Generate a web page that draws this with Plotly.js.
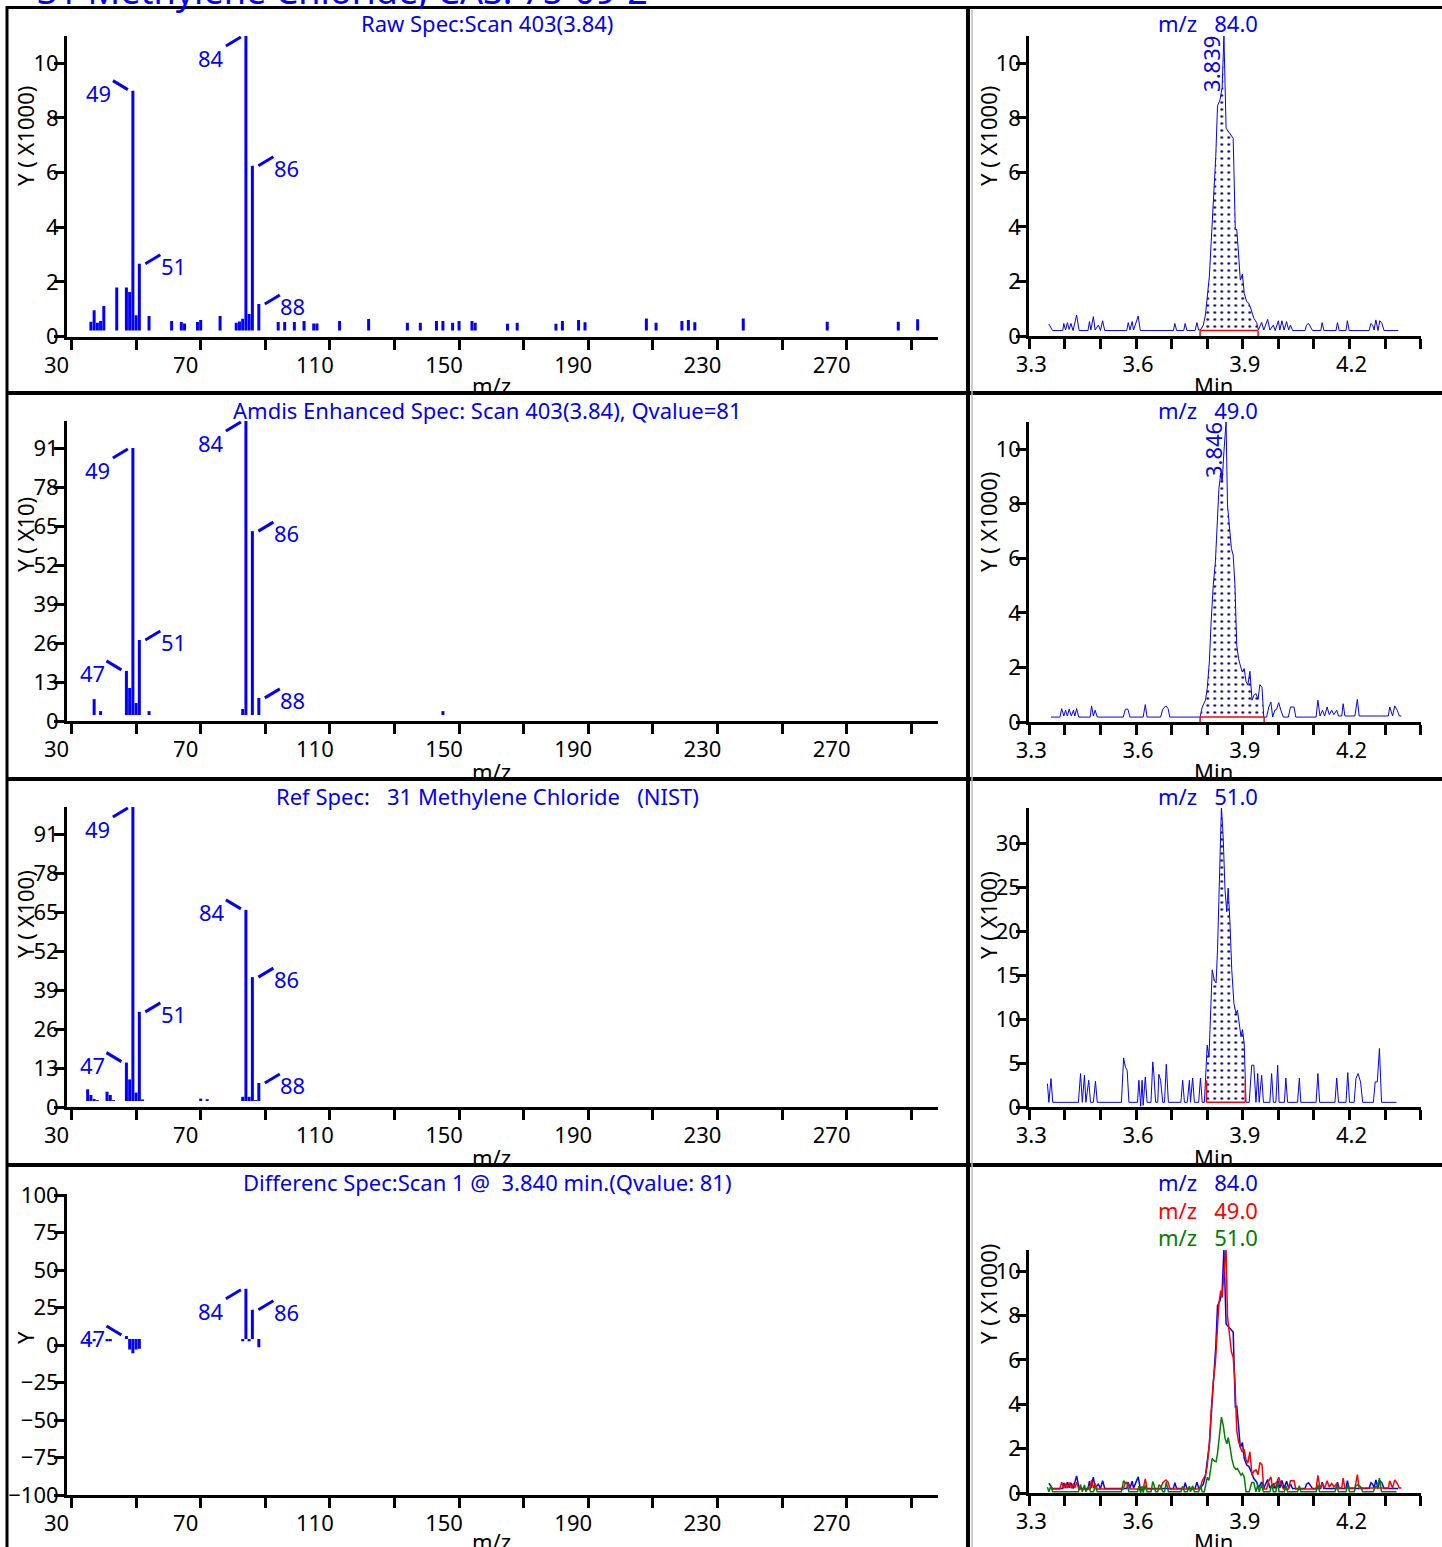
<!DOCTYPE html>
<html><head><meta charset="utf-8">
<script src="https://cdn.plot.ly/plotly-3.0.1.min.js"></script>
<style>html,body{margin:0;padding:0;background:#fff}#chart{width:1442px;height:1547px}</style>
</head><body><div id="chart"></div>
<script>
// ================= DATA =================
// Raw spectrum, scan 403 (Y x1000)
const rawMz  = [36,37,38,39,40,44,47,48,49,50,51,54,61,64,65,69,70,76,81,82,83,84,85,86,88,94,96,99,102,105,106,113,122,134,138,143,145,148,150,154,155,165,168,180,182,187,189,208,211,219,221,223,238,264,286,292];
const rawInt = [0.54,0.96,0.50,0.57,1.12,1.79,1.79,1.63,9.0,0.78,2.66,0.75,0.57,0.53,0.48,0.53,0.60,0.75,0.50,0.55,0.65,11.0,0.82,6.25,1.19,0.53,0.53,0.53,0.57,0.48,0.48,0.57,0.64,0.50,0.50,0.57,0.57,0.50,0.57,0.57,0.50,0.47,0.50,0.47,0.57,0.60,0.52,0.66,0.50,0.57,0.60,0.52,0.66,0.54,0.54,0.63];
// AMDIS enhanced spectrum (Y x10)
const amdisMz  = [37,39,47,48,49,50,51,54,83,84,86,88,145];
const amdisInt = [7.3,3.3,16.7,11,91,6,27,3.3,4,100,63.3,7.7,3.3];
// Reference spectrum NIST (Y x100)
const refMz  = [35,36,37,38,41,42,43,47,48,49,50,51,52,70,72,83,84,85,86,87,88];
const refInt = [5.9,4,2.7,2.3,5.1,4,2.3,14.8,9.2,100,4.8,31.7,2.5,2.8,2.6,3.4,65.7,3.4,43.3,2.3,8];
// Difference spectrum
const diffMz  = [35,37,41,42,47,48,49,50,51,83,84,85,86,88];
const diffInt = [2.5,2.5,2.5,2.5,6,-3,-5.5,-3,-2.5,2.5,37.5,2.5,23.5,-1.5];

// Extracted ion chromatograms (time in min)
const t84 = [3.355,3.365,3.394,3.397,3.402,3.407,3.412,3.417,3.423,3.433,3.440,3.465,3.469,3.473,3.480,3.485,3.494,3.500,3.506,3.512,3.574,3.578,3.583,3.589,3.593,3.606,3.612,3.705,3.709,3.714,3.734,3.738,3.743,3.766,3.771,3.776,3.781,3.789,3.795,3.800,3.806,3.811,3.818,3.824,3.829,3.836,3.842,3.847,3.853,3.858,3.865,3.873,3.879,3.883,3.887,3.893,3.899,3.904,3.911,3.917,3.924,3.931,3.939,3.944,3.953,3.959,3.970,3.976,3.986,3.991,4.000,4.004,4.010,4.016,4.023,4.029,4.034,4.040,4.075,4.079,4.085,4.096,4.119,4.123,4.128,4.162,4.166,4.171,4.190,4.194,4.199,4.255,4.260,4.265,4.269,4.274,4.280,4.285,4.291,4.297,4.337];
const v84 = [0.44,0.20,0.20,0.46,0.22,0.49,0.24,0.46,0.20,0.77,0.20,0.20,0.53,0.22,0.71,0.22,0.40,0.20,0.56,0.20,0.20,0.49,0.22,0.53,0.22,0.73,0.20,0.20,0.46,0.20,0.20,0.46,0.20,0.20,0.49,0.22,0.22,0.40,0.77,1.32,2.18,3.40,4.99,6.58,8.44,8.66,9.12,11.0,7.62,7.53,7.43,7.25,3.89,3.91,3.22,2.05,2.27,1.56,1.26,1.20,0.95,0.65,0.49,0.22,0.50,0.22,0.61,0.22,0.40,0.20,0.56,0.22,0.56,0.22,0.53,0.22,0.40,0.20,0.20,0.40,0.46,0.20,0.20,0.49,0.20,0.20,0.49,0.20,0.20,0.56,0.20,0.20,0.46,0.40,0.22,0.59,0.20,0.56,0.46,0.20,0.20];

const t49 = [3.361,3.386,3.391,3.397,3.402,3.407,3.412,3.418,3.424,3.428,3.433,3.439,3.471,3.475,3.480,3.485,3.491,3.564,3.570,3.577,3.583,3.620,3.626,3.631,3.669,3.675,3.684,3.690,3.695,3.780,3.786,3.795,3.800,3.806,3.811,3.817,3.823,3.828,3.833,3.838,3.842,3.847,3.853,3.857,3.862,3.868,3.873,3.878,3.883,3.888,3.894,3.899,3.904,3.909,3.914,3.920,3.926,3.931,3.937,3.943,3.948,3.954,3.959,3.967,3.973,3.979,3.984,3.990,3.995,4.001,4.007,4.014,4.028,4.034,4.044,4.049,4.106,4.111,4.117,4.124,4.130,4.137,4.143,4.150,4.156,4.164,4.169,4.178,4.182,4.187,4.215,4.222,4.227,4.309,4.313,4.321,4.327,4.334,4.340,4.346];
const v49 = [0.18,0.18,0.49,0.22,0.43,0.22,0.47,0.22,0.43,0.22,0.49,0.18,0.18,0.59,0.22,0.43,0.18,0.18,0.47,0.47,0.18,0.18,0.64,0.18,0.18,0.47,0.59,0.49,0.18,0.18,0.55,0.80,1.22,2.20,3.67,5.02,5.87,7.34,8.57,9.12,8.81,9.91,11.0,7.96,7.10,6.36,6.12,5.02,2.82,2.33,2.02,1.84,1.96,1.49,1.35,1.86,0.80,0.98,1.04,0.83,1.37,1.27,0.18,0.18,0.55,0.73,0.18,0.43,0.47,0.71,0.43,0.18,0.18,0.55,0.55,0.18,0.18,0.80,0.22,0.43,0.22,0.55,0.27,0.43,0.27,0.43,0.22,0.22,0.67,0.22,0.22,0.83,0.22,0.22,0.55,0.22,0.59,0.43,0.22,0.22];

const t51 = [3.351,3.355,3.361,3.366,3.438,3.444,3.449,3.455,3.459,3.467,3.472,3.480,3.486,3.491,3.559,3.565,3.570,3.575,3.580,3.604,3.608,3.613,3.617,3.620,3.626,3.631,3.642,3.647,3.650,3.655,3.661,3.664,3.669,3.675,3.680,3.685,3.691,3.726,3.731,3.736,3.744,3.750,3.753,3.759,3.764,3.776,3.781,3.786,3.792,3.800,3.805,3.810,3.814,3.820,3.825,3.829,3.834,3.838,3.840,3.845,3.850,3.855,3.859,3.864,3.869,3.875,3.881,3.885,3.890,3.895,3.899,3.904,3.909,3.918,3.925,3.931,3.937,3.942,3.946,3.953,3.958,3.976,3.981,3.986,3.993,3.998,4.002,4.017,4.021,4.026,4.054,4.059,4.063,4.106,4.111,4.116,4.159,4.164,4.169,4.190,4.195,4.200,4.213,4.218,4.224,4.231,4.237,4.267,4.272,4.278,4.284,4.290,4.332];
const v51 = [2.66,0.53,3.23,0.53,0.53,3.80,0.53,3.61,0.53,3.04,0.53,0.53,2.92,0.53,0.53,5.58,4.56,4.18,0.53,0.53,3.04,0.08,3.04,0.19,3.42,0.53,0.53,5.13,3.80,0.53,0.53,3.72,3.04,0.53,0.53,4.86,0.53,0.53,3.04,0.53,0.53,3.04,0.53,3.30,0.53,0.53,3.30,0.53,0.53,7.03,5.70,10.6,15.6,14.4,14.1,17.9,25.4,30.0,34.2,30.6,24.7,22.2,24.9,20.9,15.6,11.8,10.6,11.0,9.1,8.0,8.8,7.2,0.53,0.53,4.75,4.75,0.53,3.80,0.53,3.61,0.53,0.53,3.80,0.53,0.53,4.75,0.53,0.53,3.30,0.53,0.53,3.30,0.53,0.53,3.80,0.53,0.53,3.30,0.53,0.53,3.91,0.53,0.53,3.23,3.80,2.85,0.53,0.53,2.85,2.85,6.65,0.53,0.53];

const rtLabels = ['3.839','3.846','3.833'];
const intStart = [3.780, 3.780, 3.798];
const intEnd   = [3.943, 3.960, 3.907];
const intBase  = [0.20, 0.18, 0.53];

const specTitles = ['Raw Spec:Scan 403(3.84)',
  'Amdis Enhanced Spec: Scan 403(3.84), Qvalue=81',
  'Ref Spec:   31 Methylene Chloride   (NIST)',
  'Differenc Spec:Scan 1 @  3.840 min.(Qvalue: 81)'];
const ionLabels = ['84.0','49.0','51.0'];
const mainTitle = '31 Methylene Chloride, CAS: 75-09-2';

// ================= STYLE / LAYOUT =================
const FONT = '"Noto Sans", "Open Sans", "DejaVu Sans", sans-serif';
const FS = 22;
const BLUE = '#0000ff', RED = '#ff0000', GREEN = '#008000', NAVY = '#000080';
const W = 1442, H = 1547;
const PX = x => x / W, PY = y => 1 - y / H;
const nb = s => s.replace(/ /g, '\u00a0');

const axBase = {showline:true, linecolor:'black', linewidth:3, ticks:'outside', ticklen:10, tickwidth:3,
  tickcolor:'black', showgrid:false, zeroline:false, fixedrange:true,
  tickfont:{family:FONT, size:FS, color:'black'}};

const layout = {width:W, height:H, margin:{l:0,r:0,t:0,b:0}, paper_bgcolor:'white',
  plot_bgcolor:'rgba(0,0,0,0)', showlegend:false, hovermode:false,
  font:{family:FONT, size:FS, color:'black'}, annotations:[], shapes:[]};
const traces = [];
function note(o){ layout.annotations.push(Object.assign({xanchor:'center', yanchor:'middle', showarrow:false}, o)); }
function paperText(x, y, text, color, extra){
  note(Object.assign({xref:'paper', yref:'paper', x:PX(x), y:PY(y), text:text,
    font:{family:FONT, size:FS, color:color}}, extra || {}));
}

// leader-line label styles (pixel offsets, y up)
const LEAD = {
  ul:{line:[-20,10,-5,1], lab:[-34,-2]},
  ll:{line:[-20,-10,-5,-1], lab:[-35,-22]},
  r: {line:[6,0,21,9], lab:[34,-2]}
};
const leftPanels = [
  {mz:rawMz, it:rawInt, top:36, bot:336.5, yr:[0,11], dtick:2, ytitle:'Y ( X1000)', yt:136, lab:{49:'ul',84:'ll',86:'r',51:'r',88:'r'}},
  {mz:amdisMz, it:amdisInt, top:421, bot:721, yr:[0,100], dtick:13, ytitle:'Y ( X10)', yt:535, lab:{49:'ll',84:'ll',86:'r',51:'r',47:'ul',88:'r'}},
  {mz:refMz, it:refInt, top:807, bot:1107, yr:[0,100], dtick:13, ytitle:'Y ( X100)', yt:914, lab:{49:'ll',84:'ul',86:'r',51:'r',47:'ul',88:'r'}},
  {mz:diffMz, it:diffInt, top:1194, bot:1495, yr:[-100,100.7], dtick:25, ytitle:'Y', yt:1338, lab:{47:'ul',84:'ll',86:'r'}}
];
const rightPanels = [
  {top:36, bot:336, yr:[0,11], dtick:2, ytitle:'Y ( X1000)', yt:136},
  {top:422, bot:722, yr:[0,11], dtick:2, ytitle:'Y ( X1000)', yt:522},
  {top:808, bot:1107, yr:[0,34], dtick:5, ytitle:'Y ( X100)', yt:915},
  {top:1250, bot:1493, yr:[0,10.95], dtick:2, ytitle:'Y ( X1000)', yt:1294}
];
const rowTitleY = [23, 410, 796, 1182];
const rowAxTitleY = [385, 771, 1157, 1541];

function ids(k){ const n = k===0 ? '' : String(k+1); return {xa:'xaxis'+n, ya:'yaxis'+n, x:'x'+n, y:'y'+n}; }

// ---- left spectra ----
leftPanels.forEach((p, i) => {
  const id = ids(2*i);
  layout[id.xa] = Object.assign({}, axBase, {domain:[PX(67),PX(938)], range:[28.6,298.3], anchor:id.y,
    tickmode:'linear', tick0:30, dtick:40, ticklabelshift:-15, ticklabelstandoff:-3,
    minor:{tick0:30, dtick:20, ticks:'outside', ticklen:10, tickwidth:3, tickcolor:'black', showgrid:false}});
  layout[id.ya] = Object.assign({}, axBase, {domain:[PY(p.bot),PY(p.top)], range:p.yr, anchor:id.x,
    tickmode:'linear', tick0:0, dtick:p.dtick, ticklabelstandoff:-9});
  const baseOff = 6 * (p.yr[1]-p.yr[0]) / (p.bot - p.top);
  const xs = [], ys = [];
  p.mz.forEach((m, j) => { xs.push(m, m, null); ys.push(baseOff, p.it[j], null); });
  traces.push({type:'scatter', mode:'lines', x:xs, y:ys, xaxis:id.x, yaxis:id.y,
    line:{color:BLUE, width:3}, hoverinfo:'skip', connectgaps:false});
  Object.keys(p.lab).forEach(key => {
    const m = Number(key), j = p.mz.indexOf(m);
    if (j < 0) return;
    const ay = Math.max(p.it[j], baseOff);
    const g = LEAD[p.lab[key]];
    layout.shapes.push({type:'line', xref:id.x, yref:id.y, xsizemode:'pixel', ysizemode:'pixel',
      xanchor:m, yanchor:ay, x0:g.line[0], y0:g.line[1], x1:g.line[2], y1:g.line[3],
      line:{color:BLUE, width:3}});
    note({xref:id.x, yref:id.y, x:m, y:ay, xshift:g.lab[0], yshift:g.lab[1],
      text:String(m), font:{family:FONT, size:FS, color:BLUE}});
  });
  paperText(487, rowTitleY[i], nb(specTitles[i]), BLUE);
  paperText(491, rowAxTitleY[i], 'm/z', 'black');
  paperText(25, p.yt, nb(p.ytitle), 'black', {textangle:-90});
});

// ---- right chromatograms ----
const chroms = [[t84, v84], [t49, v49], [t51, v51]];
rightPanels.forEach((p, i) => {
  const id = ids(2*i+1);
  layout[id.xa] = Object.assign({}, axBase, {domain:[PX(1029.3),PX(1420.7)], range:[3.3,4.4], anchor:id.y,
    tickmode:'linear', tick0:3.3, dtick:0.3, tickformat:'.1f', ticklabelshift:2, ticklabelstandoff:-3,
    minor:{tick0:3.3, dtick:0.1, ticks:'outside', ticklen:10, tickwidth:3, tickcolor:'black', showgrid:false}});
  layout[id.ya] = Object.assign({}, axBase, {domain:[PY(p.bot),PY(p.top)], range:p.yr, anchor:id.x,
    tickmode:'linear', tick0:0, dtick:p.dtick, ticklabelstandoff:-9});
  paperText(988, p.yt, nb(p.ytitle), 'black', {textangle:-90});
  paperText(1213, rowAxTitleY[i], 'Min', 'black');
  if (i < 3) {
    const [t, v] = chroms[i];
    const t1 = intStart[i], t2 = intEnd[i], b = intBase[i];
    const fx = [t1], fy = [b];
    t.forEach((tt, j) => { if (tt >= t1 && tt <= t2) { fx.push(tt); fy.push(v[j]); } });
    fx.push(t2); fy.push(b);
    traces.push({type:'scatter', mode:'lines', x:fx, y:fy, xaxis:id.x, yaxis:id.y, fill:'toself',
      fillcolor:'rgba(255,255,255,0)', line:{width:0, color:'rgba(0,0,0,0)'},
      fillpattern:{shape:'.', fgcolor:NAVY, bgcolor:'rgba(255,255,255,0)', size:7, solidity:0.12}, hoverinfo:'skip'});
    traces.push({type:'scatter', mode:'lines', x:t, y:v, xaxis:id.x, yaxis:id.y,
      line:{color:BLUE, width:1}, hoverinfo:'skip'});
    traces.push({type:'scatter', mode:'lines', x:[t1, t2], y:[b, b], xaxis:id.x, yaxis:id.y,
      line:{color:RED, width:1.5}, hoverinfo:'skip'});
    const drop = (i === 2) ? 22 : -21;
    [t1, t2].forEach(tt => layout.shapes.push({type:'line', xref:id.x, yref:id.y, xsizemode:'pixel', ysizemode:'pixel',
      xanchor:tt, yanchor:b, x0:0, y0:0, x1:0, y1:drop, line:{color:RED, width:1.5}}));
    let k = 0; v.forEach((vv, j) => { if (vv > v[k]) k = j; });
    note({xref:id.x, yref:id.y, x:t[k], y:v[k], xshift:-13, yshift:-28, textangle:-90,
      text:rtLabels[i], font:{family:FONT, size:FS, color:BLUE}});
    paperText(1208, rowTitleY[i], nb('m/z   ' + ionLabels[i]), BLUE);
  } else {
    const cols = [BLUE, RED, GREEN];
    const scale = [1, 1, 0.1];
    chroms.forEach(([t, v], c) => {
      traces.push({type:'scatter', mode:'lines', x:t, y:v.map(q => q*scale[c]), xaxis:id.x, yaxis:id.y,
        line:{color:cols[c], width:1.5}, hoverinfo:'skip'});
      paperText(1208, 1182 + 27.5*c, nb('m/z   ' + ionLabels[c]), cols[c]);
    });
  }
});

// main title (mostly cut off at the top)
note({xref:'paper', yref:'paper', x:PX(35), y:PY(-10), xanchor:'left', yanchor:'middle',
  text:mainTitle, font:{family:FONT, size:36, color:BLUE}});

// frame lines
const frame = (x0,y0,x1,y1,w,c) => layout.shapes.push({type:'line', xref:'paper', yref:'paper',
  x0:PX(x0), y0:PY(y0), x1:PX(x1), y1:PY(y1), line:{color:c||'black', width:w}});
frame(7, 7.5, 1442, 7.5, 3);
[393, 779, 1165].forEach(y => frame(7, y, 1442, y, 4));
frame(7, 6, 7, 1547, 3);
frame(968, 6, 968, 1547, 4);
frame(972, 10, 972, 1547, 1.5, '#bbbbbb');

Plotly.newPlot('chart', traces, layout, {staticPlot:true, displayModeBar:false});
</script></body></html>
